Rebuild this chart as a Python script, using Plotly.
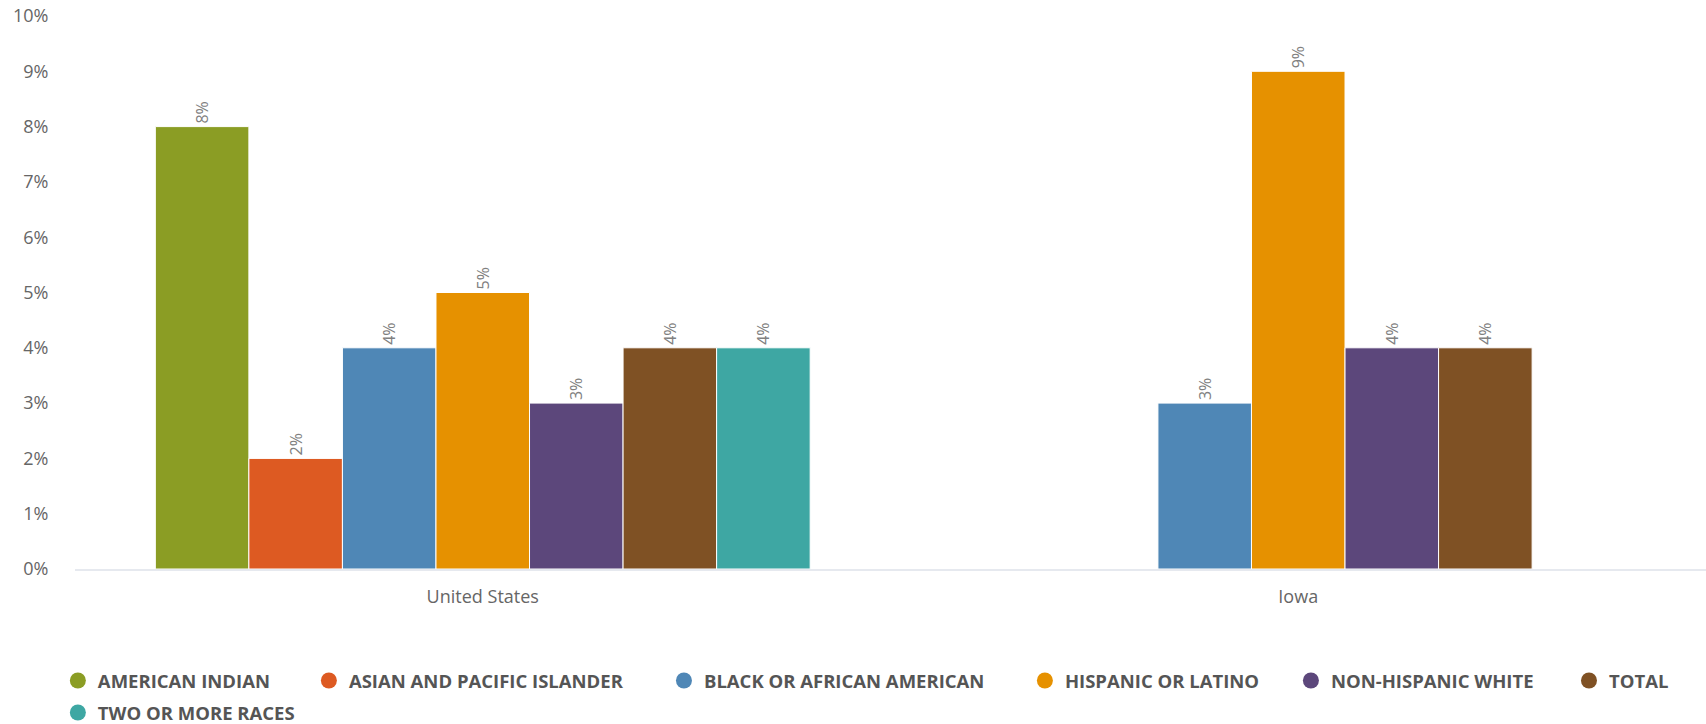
import plotly.graph_objects as go

categories = ["United States", "Iowa"]
series_names = ["AMERICAN INDIAN", "ASIAN AND PACIFIC ISLANDER", "BLACK OR AFRICAN AMERICAN",
                "HISPANIC OR LATINO", "NON-HISPANIC WHITE", "TOTAL", "TWO OR MORE RACES"]
american_indian = [8, None]
asian_pacific = [2, None]
black = [4, 3]
hispanic = [5, 9]
non_hispanic_white = [3, 4]
total = [4, 4]
two_or_more = [4, None]
series_values = [american_indian, asian_pacific, black, hispanic, non_hispanic_white, total, two_or_more]
colors = ["#8b9d24", "#dd5a22", "#4f87b6", "#e69100", "#5c477b", "#7f5124", "#3ea7a3"]
y_ticks = list(range(0, 11))
y_tick_labels = [f"{v}%" for v in y_ticks]

# legend entry placement (paper coords), one legend per entry to mimic the reference layout
legend_x = [-0.0105, 0.1434, 0.3611, 0.5824, 0.7455, 0.9160, -0.0105]
legend_y = [-0.2025, -0.2025, -0.2025, -0.2025, -0.2025, -0.2025, -0.2604]

fig = go.Figure()
for name, vals, col in zip(series_names, series_values, colors):
    fig.add_trace(go.Bar(
        x=categories, y=vals, name=name, legendgroup=name, showlegend=False,
        marker=dict(color=col, line=dict(color="#ffffff", width=1)),
        text=[f"{v}%" if v is not None else "" for v in vals],
        textposition="outside", textangle=-90, cliponaxis=False,
        textfont=dict(family="Open Sans", size=16, color="#808080"),
        hoverinfo="x+y+name",
    ))

legend_layouts = {}
for i, (name, col) in enumerate(zip(series_names, colors)):
    key = "legend" if i == 0 else f"legend{i + 1}"
    fig.add_trace(go.Scatter(
        x=[None], y=[None], mode="markers", name=name, legendgroup=name,
        marker=dict(symbol="circle", size=16, color=col), showlegend=True,
        legend=key,
    ))
    legend_layouts[key] = dict(
        orientation="h", x=legend_x[i], xanchor="left", y=legend_y[i], yanchor="middle",
        font=dict(family="Open Sans", size=18.5, color="#555555", weight=700),
        bgcolor="rgba(0,0,0,0)", borderwidth=0, itemwidth=30,
    )

fig.update_layout(
    width=1706, height=724,
    margin=dict(l=75, r=0, t=16, b=155, autoexpand=False),
    plot_bgcolor="#ffffff", paper_bgcolor="#ffffff",
    barmode="group", bargap=0.197, bargroupgap=0,
    font=dict(family="Open Sans", color="#666666"),
    xaxis=dict(showgrid=False, showline=True, linecolor="#e6e9ef", linewidth=2,
               ticks="outside", ticklen=10, tickcolor="rgba(0,0,0,0)",
               tickfont=dict(size=18, color="#666666"), zeroline=False, automargin=False),
    yaxis=dict(range=[0, 10], tickvals=y_ticks, ticktext=y_tick_labels, showgrid=False,
               zeroline=False, showline=False, tickfont=dict(size=18, color="#666666"),
               ticks="outside", ticklen=22, tickcolor="rgba(0,0,0,0)",
               ticklabeloverflow="allow", automargin=False),
    **legend_layouts,
)
fig.write_html("out.html", config={"displayModeBar": False},
               post_script="document.body.style.margin='0';")
